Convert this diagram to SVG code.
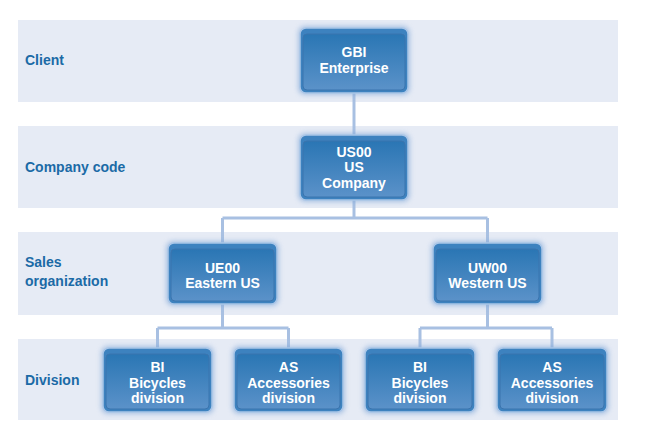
<svg xmlns="http://www.w3.org/2000/svg" width="650" height="437" viewBox="0 0 650 437">
<defs>
<linearGradient id="g" x1="0" y1="0" x2="0" y2="1">
<stop offset="0" stop-color="#2a76b4"/>
<stop offset="1" stop-color="#5b92c9"/>
</linearGradient>
<filter id="glow" x="-20%" y="-20%" width="140%" height="140%">
<feGaussianBlur stdDeviation="2.5"/>
</filter>
<style>
.band{fill:#e6ebf5}
.lbl{font-family:"Liberation Sans",Arial,sans-serif;font-weight:bold;font-size:14px;fill:#1b6aa6}
.halo{fill:#7fa6d6;opacity:0.6;filter:url(#glow)}
.outer{fill:#3d82bf;stroke:#a9c6e8;stroke-width:1.5}
.inner{fill:url(#g);stroke:#3a74ae;stroke-width:1}
.t{font-family:"Liberation Sans",Arial,sans-serif;font-weight:bold;font-size:14px;fill:#ffffff;text-anchor:middle}
.c{fill:none;stroke:#a8c0e2;stroke-width:3}
</style>
</defs>
<rect width="650" height="437" fill="#ffffff"/>
<g id="bands">
<rect class="band" x="18" y="20" width="600" height="82"/>
<rect class="band" x="18" y="126" width="600" height="82"/>
<rect class="band" x="18" y="232" width="600" height="83"/>
<rect class="band" x="18" y="339" width="600" height="81"/>
</g>
<g id="labels">
<text class="lbl" x="25" y="65">Client</text>
<text class="lbl" x="25" y="172">Company code</text>
<text class="lbl" x="25" y="267">Sales</text>
<text class="lbl" x="25" y="286">organization</text>
<text class="lbl" x="25" y="385">Division</text>
</g>
<g id="connectors">
<path class="c" d="M354 93 V135"/>
<path class="c" d="M354 200 V218"/>
<path class="c" d="M222.5 218 H487.5"/>
<path class="c" d="M222.5 218 V243 M487.5 218 V243"/>
<path class="c" d="M222.5 304 V328 M157.5 328 H288.5 M157.5 328 V348 M288.5 328 V348"/>
<path class="c" d="M487.5 304 V328 M420 328 H552 M420 328 V348 M552 328 V348"/>
</g>
<g id="gbi">
<rect class="halo" x="298" y="26" width="112" height="69" rx="7"/>
<rect class="outer" x="300" y="28" width="108" height="65" rx="6"/>
<rect class="inner" x="303" y="34" width="102" height="56" rx="4"/>
<text class="t" x="354" y="57">GBI</text>
<text class="t" x="354" y="73">Enterprise</text>
</g>
<g id="us00">
<rect class="halo" x="298" y="133" width="112" height="69" rx="7"/>
<rect class="outer" x="300" y="135" width="108" height="65" rx="6"/>
<rect class="inner" x="303" y="141" width="102" height="56" rx="4"/>
<text class="t" x="354" y="157">US00</text>
<text class="t" x="354" y="172">US</text>
<text class="t" x="354" y="188">Company</text>
</g>
<g id="ue00">
<rect class="halo" x="166" y="241" width="113" height="65" rx="7"/>
<rect class="outer" x="168" y="243" width="109" height="61" rx="6"/>
<rect class="inner" x="171" y="249" width="103" height="52" rx="4"/>
<text class="t" x="222.5" y="273">UE00</text>
<text class="t" x="222.5" y="288">Eastern US</text>
</g>
<g id="uw00">
<rect class="halo" x="431" y="241" width="113" height="65" rx="7"/>
<rect class="outer" x="433" y="243" width="109" height="61" rx="6"/>
<rect class="inner" x="436" y="249" width="103" height="52" rx="4"/>
<text class="t" x="487.5" y="273">UW00</text>
<text class="t" x="487.5" y="288">Western US</text>
</g>
<g id="bi-east">
<rect class="halo" x="101" y="346" width="113" height="68" rx="7"/>
<rect class="outer" x="103" y="348" width="109" height="64" rx="6"/>
<rect class="inner" x="106" y="354" width="103" height="55" rx="4"/>
<text class="t" x="157.5" y="372">BI</text>
<text class="t" x="157.5" y="388">Bicycles</text>
<text class="t" x="157.5" y="403">division</text>
</g>
<g id="as-east">
<rect class="halo" x="232" y="346" width="113" height="68" rx="7"/>
<rect class="outer" x="234" y="348" width="109" height="64" rx="6"/>
<rect class="inner" x="237" y="354" width="103" height="55" rx="4"/>
<text class="t" x="288.5" y="372">AS</text>
<text class="t" x="288.5" y="388">Accessories</text>
<text class="t" x="288.5" y="403">division</text>
</g>
<g id="bi-west">
<rect class="halo" x="363" y="346" width="114" height="68" rx="7"/>
<rect class="outer" x="365" y="348" width="110" height="64" rx="6"/>
<rect class="inner" x="368" y="354" width="104" height="55" rx="4"/>
<text class="t" x="420" y="372">BI</text>
<text class="t" x="420" y="388">Bicycles</text>
<text class="t" x="420" y="403">division</text>
</g>
<g id="as-west">
<rect class="halo" x="495" y="346" width="114" height="68" rx="7"/>
<rect class="outer" x="497" y="348" width="110" height="64" rx="6"/>
<rect class="inner" x="500" y="354" width="104" height="55" rx="4"/>
<text class="t" x="552" y="372">AS</text>
<text class="t" x="552" y="388">Accessories</text>
<text class="t" x="552" y="403">division</text>
</g>
</svg>
